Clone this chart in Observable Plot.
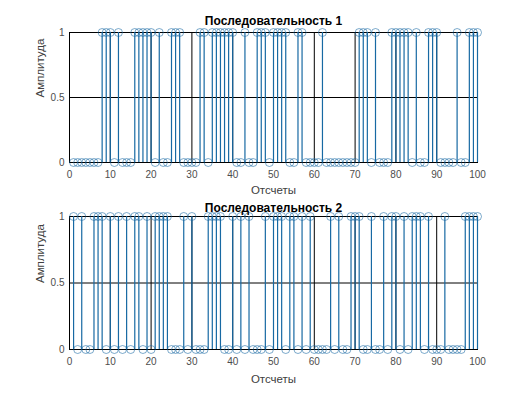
<!DOCTYPE html>
<html><head><meta charset="utf-8">
<script src="https://cdn.jsdelivr.net/npm/d3@7"></script>
<script src="https://cdn.jsdelivr.net/npm/@observablehq/plot@0.6"></script>
<style>
body{margin:0;background:#fff;}
#chart{position:relative;width:525px;height:393px;font-family:"Liberation Sans",Arial,sans-serif;}
#chart svg{display:block;overflow:visible;}
</style></head><body><div id="chart"></div>
<script>
const xTicks = [0,10,20,30,40,50,60,70,80,90,100];
const yTicks = [0,0.5,1];
const yTickLabels = ["0","0.5","1"];
const gridX = [10,20,30,40,50,60,70,80,90];
const gridY = [0.5];
const titles = ["Последовательность 1","Последовательность 2"];
const xLabel = "Отсчеты";
const yLabel = "Амплитуда";
const samples = d3.range(1,101);
const seq1 = [
  0,0,0,0,0,0,0,1,1,1,
  0,1,0,0,0,1,1,1,1,1,
  0,1,0,0,1,1,1,0,0,0,
  0,1,1,0,1,1,1,1,1,1,
  0,0,1,0,0,1,1,1,0,1,
  1,1,1,0,0,1,1,0,0,0,
  0,1,0,0,0,0,0,0,0,0,
  1,1,1,0,1,0,0,0,1,1,
  1,1,1,0,1,0,0,1,1,1,
  0,0,0,0,1,0,0,1,1,1
];
const seq2 = [
  1,0,1,0,0,1,1,1,0,1,
  0,1,0,1,0,1,1,0,1,0,
  1,1,1,1,0,0,0,1,0,1,
  0,0,0,1,1,1,1,0,0,1,
  0,1,0,1,0,0,0,1,0,1,
  1,1,0,1,1,0,1,0,1,0,
  0,0,0,1,0,1,0,0,1,1,
  1,0,0,1,0,0,1,0,1,1,
  0,1,0,1,1,1,0,1,0,0,
  0,1,0,0,0,0,1,1,1,1
];
const blue = "#1769a3";

function panel(values, title, height, mt, mb, titleDy, tickDy, labelDy) {
  const data = samples.map((n,i)=>({n, v: values[i]}));
  return Plot.plot({
    width:525, height, marginLeft:69, marginRight:48, marginTop:mt, marginBottom:mb,
    style:{fontFamily:"'Liberation Sans', Arial, sans-serif", fontSize:"10px", background:"transparent", overflow:"visible"},
    x:{domain:[0,100]}, y:{domain:[0,1]},
    marks:[
      Plot.ruleX(gridX, {stroke:"#000", strokeWidth:1}),
      Plot.ruleY(gridY, {stroke:"#000", strokeWidth:1}),
      Plot.frame({stroke:"#000", strokeWidth:1}),
      Plot.ruleX(data, {x:"n", y1:0, y2:"v", stroke:blue, strokeWidth:1.2}),
      Plot.dot(data, {x:"n", y:"v", r:4, stroke:blue, strokeWidth:0.8, strokeOpacity:0.7, fill:"none"}),
      Plot.axisX({ticks:xTicks, tickSize:0, tickPadding:8, fill:"#4d4d4d", label:null, fontSize:10}),
      Plot.axisY({ticks:yTicks, tickFormat:(d)=>yTickLabels[yTicks.indexOf(d)], tickSize:0, tickPadding:5, fill:"#4d4d4d", label:null, fontSize:10}),
      Plot.text([title], {frameAnchor:"top", lineAnchor:"middle", dy:titleDy, fontWeight:"bold", fontSize:12, fill:"#000"}),
      Plot.text([xLabel], {frameAnchor:"bottom", lineAnchor:"middle", dy:labelDy, fontSize:11.5, fill:"#404040"}),
      Plot.text([yLabel], {frameAnchor:"left", lineAnchor:"middle", rotate:-90, dx:-29, fontSize:11.5, fill:"#404040"})
    ]
  });
}
const root = document.getElementById("chart");
root.appendChild(panel(seq1, titles[0], 196, 32, 34, -11, 8, 28));
root.appendChild(panel(seq2, titles[1], 197, 20, 44, -8, 8, 30));
</script></body></html>
